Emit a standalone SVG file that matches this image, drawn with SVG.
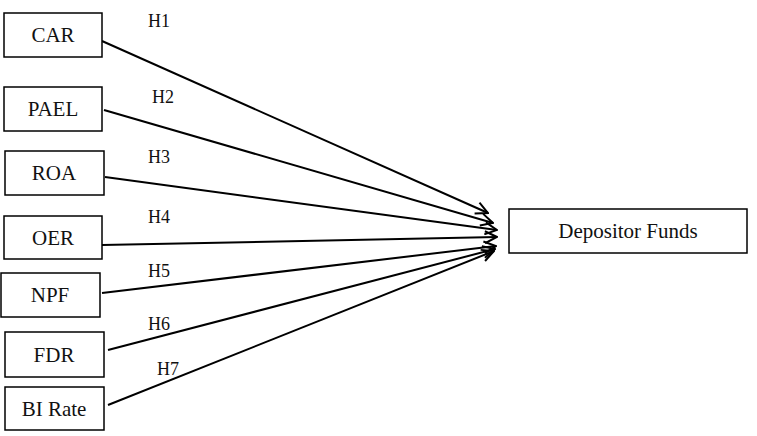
<svg xmlns="http://www.w3.org/2000/svg" width="757" height="436" viewBox="0 0 757 436">
<defs>
<marker id="arr" viewBox="0 0 14 14" refX="13" refY="7" markerWidth="14" markerHeight="14" markerUnits="userSpaceOnUse" orient="auto">
<path d="M1,1 L13,7 L1,13" fill="none" stroke="#000" stroke-width="2"/>
</marker>
<style>
rect{fill:#fff;stroke:#000;stroke-width:1.5}
.t{font-family:'Liberation Serif','DejaVu Serif',serif;font-size:21px;fill:#111;text-anchor:middle}
.h{font-family:'Liberation Serif','DejaVu Serif',serif;font-size:18px;fill:#111}
.c line{stroke:#000;stroke-width:2;marker-end:url(#arr)}
</style>
</defs>
<rect x="0" y="0" width="757" height="436" style="stroke:none"/>
<g class="c" id="connectors">
<line x1="102" y1="41" x2="488" y2="213"/>
<line x1="104" y1="110" x2="493" y2="223"/>
<line x1="105" y1="177" x2="497" y2="230"/>
<line x1="102" y1="245" x2="497" y2="237"/>
<line x1="102" y1="293" x2="496" y2="246"/>
<line x1="108" y1="350" x2="495" y2="249"/>
<line x1="108" y1="405" x2="494" y2="251"/>
</g>
<g id="labels">
<text class="h" x="148" y="27">H1</text>
<text class="h" x="152" y="103">H2</text>
<text class="h" x="148" y="163">H3</text>
<text class="h" x="148" y="223">H4</text>
<text class="h" x="148" y="277">H5</text>
<text class="h" x="148" y="330">H6</text>
<text class="h" x="157" y="375">H7</text>
</g>
<g id="car"><rect x="4" y="13" width="98" height="44"/><text class="t" x="53" y="42">CAR</text></g>
<g id="pael"><rect x="4" y="87" width="98" height="44"/><text class="t" x="53" y="116">PAEL</text></g>
<g id="roa"><rect x="5" y="151" width="99" height="44"/><text class="t" x="54" y="180">ROA</text></g>
<g id="oer"><rect x="4" y="216" width="98" height="43"/><text class="t" x="53" y="245">OER</text></g>
<g id="npf"><rect x="1" y="273" width="99" height="44"/><text class="t" x="50" y="302">NPF</text></g>
<g id="fdr"><rect x="5" y="332" width="99" height="45"/><text class="t" x="54" y="362">FDR</text></g>
<g id="birate"><rect x="5" y="387" width="99" height="43"/><text class="t" x="54" y="416">BI Rate</text></g>
<g id="depositor"><rect x="509" y="209" width="238" height="44"/><text class="t" x="628" y="238">Depositor Funds</text></g>
</svg>
